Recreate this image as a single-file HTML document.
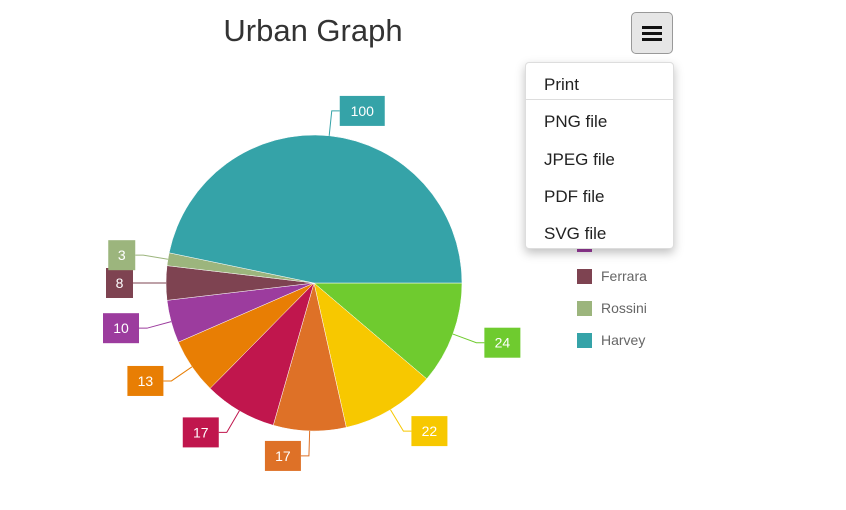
<!DOCTYPE html>
<html><head><meta charset="utf-8"><style>
body{margin:0;width:846px;height:510px;background:#fff;font-family:"Liberation Sans",sans-serif;overflow:hidden;position:relative}
#title{position:absolute;left:0;width:626px;top:13px;text-align:center;font-size:31px;color:#333;font-weight:300}
#menu-btn{position:absolute;left:631px;top:12px;width:42px;height:42px;border:1px solid #999;border-radius:5px;background:#e6e6e6;box-sizing:border-box}
#menu-btn span{position:absolute;left:10px;width:20px;height:3px;background:#111}
#menu{position:absolute;left:525px;top:62px;width:149px;height:187px;background:#fff;border:1px solid #ddd;border-radius:4px;box-shadow:0 4px 10px rgba(0,0,0,.25);box-sizing:border-box}
#menu div{position:absolute;left:18px;font-size:17px;color:#222}
</style></head><body>
<div id="title">Urban Graph</div>
<svg id="chart" width="846" height="510" style="position:absolute;left:0;top:0"></svg>
<div id="menu-btn"><span style="top:13px"></span><span style="top:19px"></span><span style="top:25px"></span></div>
<div id="menu">
<div style="top:12px">Print</div>
<div style="position:absolute;left:0;top:36px;width:147px;height:1px;background:#ddd"></div>
<div style="top:49px">PNG file</div>
<div style="top:87px">JPEG file</div>
<div style="top:124px">PDF file</div>
<div style="top:161px">SVG file</div>
</div>
<script>
const names=["Bianchi","Moretti","Colombo","Ricci","Marino","Greco","Ferrara","Rossini","Harvey"];
const values=[24,22,17,17,13,10,8,3,100];
const colors=["#6fcb2f","#f7c800","#de7127","#c0164d","#e87e04","#9c3c9e","#7e4351","#9cb57d","#35a3a8"];
const NS="http://www.w3.org/2000/svg";
const svg=document.getElementById('chart');
const cx=314,cy=283,r=148;
const total=values.reduce((a,b)=>a+b,0);
function mk(t,a){const e=document.createElementNS(NS,t);for(const k in a)e.setAttribute(k,a[k]);svg.appendChild(e);return e;}
let a0=0;
values.forEach((v,i)=>{
  const a1=a0+v/total*2*Math.PI;
  const x0=cx+r*Math.cos(a0),y0=cy+r*Math.sin(a0),x1=cx+r*Math.cos(a1),y1=cy+r*Math.sin(a1);
  const p=mk('path',{d:`M${cx},${cy}L${x0},${y0}A${r},${r} 0 ${a1-a0>Math.PI?1:0} 1 ${x1},${y1}Z`,fill:colors[i],stroke:'#fff','stroke-width':0.5});
  
  
  const m=(a0+a1)/2,c=Math.cos(m),s=Math.sin(m);
  const ex=cx+(r+25)*c,ey=cy+(r+25)*s,right=c>=0;
  const lx=ex+(right?8:-8);
  const ln=mk('polyline',{points:`${cx+r*c},${cy+r*s} ${ex},${ey} ${lx},${ey}`,fill:'none',stroke:colors[i],'stroke-width':1});
  
  
  const w=String(v).length*9+18,h=30;
  const bx=right?lx:lx-w;
  const b=mk('rect',{x:bx,y:ey-h/2,width:w,height:h,fill:colors[i]});
  
  
  const t=mk('text',{x:bx+w/2,y:ey+5,'text-anchor':'middle','font-size':14,fill:'#fff','font-family':'Liberation Sans, sans-serif'});
  t.textContent=v;
  
  
  a0=a1;
});
names.forEach((n,i)=>{
  const y=84+i*32;
  const sq=mk('rect',{x:577,y:y-7,width:15,height:15,fill:colors[i]});
  
  
  const t=mk('text',{x:601,y:y+5,'font-size':14,fill:'#666','font-family':'Liberation Sans, sans-serif'});
  t.textContent=n;
  
  
});
</script>
</body></html>
